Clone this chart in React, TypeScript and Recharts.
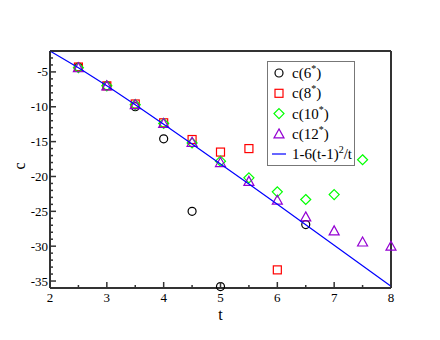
import { ScatterChart, Scatter, XAxis, YAxis } from "recharts";

// valores
const T_6 = [2.5, 3, 3.5, 4, 4.5, 5, 6.5];
const C_6 = [-4.3, -7.0, -10.0, -14.6, -25.0, -35.8, -26.9];

const T_8 = [2.5, 3, 3.5, 4, 4.5, 5, 5.5, 6];
const C_8 = [-4.3, -7.0, -9.6, -12.3, -14.7, -16.5, -16.0, -33.4];

const T_10 = [2.5, 3, 3.5, 4, 4.5, 5, 5.5, 6, 6.5, 7, 7.5];
const C_10 = [-4.4, -7.0, -9.7, -12.4, -15.2, -17.8, -20.2, -22.2, -23.3, -22.6, -17.6];

const T_12 = [2.5, 3, 3.5, 4, 4.5, 5, 5.5, 6, 6.5, 7, 7.5, 8];
const C_12 = [-4.4, -7.0, -9.7, -12.4, -15.1, -18.0, -20.7, -23.4, -25.8, -27.8, -29.4, -30.0];

const T_LINHA = [2, 2.5, 3, 3.5, 4, 4.5, 5, 5.5, 6, 6.5, 7, 7.5, 8];
const C_LINHA = [-2, -4.4, -7, -9.71, -12.5, -15.33, -18.2, -21.09, -24, -26.92, -29.86, -32.8, -35.75];

const X_TICKS = [2, 2.5, 3, 3.5, 4, 4.5, 5, 5.5, 6, 6.5, 7, 7.5, 8];
const Y_TICKS = Array.from({ length: 35 }, (_, i) => -36 + i);

const FONTE = "'Liberation Serif', 'DejaVu Serif', serif";
const COR_EIXO = "#333";

const junta = (t: number[], c: number[]) => t.map((x, i) => ({ t: x, c: c[i] }));

type P = { cx?: number; cy?: number };

const Circulo = ({ cx = 0, cy = 0 }: P) => (
  <circle cx={cx} cy={cy} r={4} fill="none" stroke="#000" strokeWidth={1.2} />
);
const Quadrado = ({ cx = 0, cy = 0 }: P) => (
  <rect x={cx - 4} y={cy - 4} width={8} height={8} fill="none" stroke="#f00" strokeWidth={1.2} />
);
const Losango = ({ cx = 0, cy = 0 }: P) => (
  <polygon
    points={`${cx},${cy - 5} ${cx + 5},${cy} ${cx},${cy + 5} ${cx - 5},${cy}`}
    fill="none"
    stroke="#0f0"
    strokeWidth={1.2}
  />
);
const Triangulo = ({ cx = 0, cy = 0 }: P) => (
  <polygon
    points={`${cx},${cy - 5} ${cx + 5},${cy + 4} ${cx - 5},${cy + 4}`}
    fill="none"
    stroke="#9400d3"
    strokeWidth={1.2}
  />
);

const ehInteiro = (v: number) => Math.abs(v - Math.round(v)) < 1e-6;
const multiplo5 = (v: number) => Math.round(v) % 5 === 0;

// ticks para dentro, estilo xmgrace
function TickBaixo(props: any) {
  const { x, y, payload } = props;
  const maior = ehInteiro(payload.value);
  return (
    <g>
      <line x1={x} y1={y} x2={x} y2={y - (maior ? 6 : 3)} stroke={COR_EIXO} strokeWidth={1.5} />
      {maior && (
        <text x={x} y={y + 14} textAnchor="middle" fontSize={13} fontFamily={FONTE} fill="#000">
          {payload.value}
        </text>
      )}
    </g>
  );
}

function TickTopo(props: any) {
  const { x, y, payload } = props;
  const maior = ehInteiro(payload.value);
  return <line x1={x} y1={y} x2={x} y2={y + (maior ? 6 : 3)} stroke={COR_EIXO} strokeWidth={1.5} />;
}

function TickEsq(props: any) {
  const { x, y, payload } = props;
  const maior = multiplo5(payload.value);
  return (
    <g>
      <line x1={x} y1={y} x2={x + (maior ? 6 : 3)} y2={y} stroke={COR_EIXO} strokeWidth={1.5} />
      {maior && (
        <text x={x - 2} y={y + 4.5} textAnchor="end" fontSize={13} fontFamily={FONTE} fill="#000">
          {payload.value}
        </text>
      )}
    </g>
  );
}

function TickDir(props: any) {
  const { x, y, payload } = props;
  const maior = multiplo5(payload.value);
  return <line x1={x} y1={y} x2={x - (maior ? 6 : 3)} y2={y} stroke={COR_EIXO} strokeWidth={1.5} />;
}

const LEGENDA = [
  { base: "c(6", Simbolo: Circulo },
  { base: "c(8", Simbolo: Quadrado },
  { base: "c(10", Simbolo: Losango },
  { base: "c(12", Simbolo: Triangulo },
];

function Legenda() {
  return (
    <svg
      width={88}
      height={106}
      style={{ position: "absolute", left: 267, top: 61 }}
      fontFamily={FONTE}
    >
      <rect x={0.5} y={0.5} width={87} height={104} fill="#fff" stroke="#777" strokeWidth={1} />
      {LEGENDA.map(({ base, Simbolo }, i) => {
        const y = 12 + i * 20.3;
        return (
          <g key={base}>
            <Simbolo cx={12} cy={y} />
            <text x={25} y={y + 5} fontSize={15} fill="#000">
              {base}
              <tspan fontSize={10} dy={-6}>*</tspan>
              <tspan dy={6}>)</tspan>
            </text>
          </g>
        );
      })}
      <line x1={5} y1={93} x2={19} y2={93} stroke="#00f" strokeWidth={1.2} />
      <text x={25} y={98} fontSize={15} fill="#000">
        1-6(t-1)
        <tspan fontSize={10} dy={-6}>2</tspan>
        <tspan dy={6}>/t</tspan>
      </text>
    </svg>
  );
}

export default function App() {
  return (
    <div style={{ position: "absolute", left: 0, top: 0, width: 440, height: 340, background: "#fff" }}>
      <ScatterChart
        width={440}
        height={340}
        margin={{ top: 46, right: 44, bottom: 22, left: 10 }}
      >
        <XAxis
          xAxisId="b"
          dataKey="t"
          type="number"
          domain={[2, 8]}
          ticks={X_TICKS}
          tick={<TickBaixo />}
          tickSize={0}
          tickMargin={0}
          height={30}
          interval={0}
          axisLine={{ stroke: COR_EIXO, strokeWidth: 2 }}
          tickLine={false}
          allowDecimals
          label={{ value: "t", position: "insideBottom", offset: -2, fontSize: 16, fontFamily: FONTE, fill: "#000" }}
        />
        <XAxis
          xAxisId="top"
          orientation="top"
          dataKey="t"
          type="number"
          domain={[2, 8]}
          ticks={X_TICKS}
          tick={<TickTopo />}
          tickSize={0}
          tickMargin={0}
          height={5}
          interval={0}
          axisLine={{ stroke: COR_EIXO, strokeWidth: 2 }}
          tickLine={false}
        />
        <YAxis
          yAxisId="l"
          dataKey="c"
          type="number"
          domain={[-36, -2]}
          ticks={Y_TICKS}
          tick={<TickEsq />}
          tickSize={0}
          tickMargin={0}
          width={40}
          interval={0}
          axisLine={{ stroke: COR_EIXO, strokeWidth: 2 }}
          tickLine={false}
          label={{ value: "c", angle: -90, position: "insideLeft", offset: 9, fontSize: 16, fontFamily: FONTE, fill: "#000" }}
        />
        <YAxis
          yAxisId="r"
          orientation="right"
          dataKey="c"
          type="number"
          domain={[-36, -2]}
          ticks={Y_TICKS}
          tick={<TickDir />}
          tickSize={0}
          tickMargin={0}
          width={5}
          interval={0}
          axisLine={{ stroke: COR_EIXO, strokeWidth: 2 }}
          tickLine={false}
        />
        <Scatter xAxisId="b" yAxisId="l" data={junta(T_6, C_6)} shape={<Circulo />} isAnimationActive={false} />
        <Scatter xAxisId="b" yAxisId="l" data={junta(T_8, C_8)} shape={<Quadrado />} isAnimationActive={false} />
        <Scatter xAxisId="b" yAxisId="l" data={junta(T_10, C_10)} shape={<Losango />} isAnimationActive={false} />
        <Scatter xAxisId="b" yAxisId="l" data={junta(T_12, C_12)} shape={<Triangulo />} isAnimationActive={false} />
        <Scatter
          xAxisId="b"
          yAxisId="l"
          data={junta(T_LINHA, C_LINHA)}
          line={{ stroke: "#00f", strokeWidth: 1.2 }}
          shape={() => <g />}
          isAnimationActive={false}
        />
      </ScatterChart>
      <Legenda />
    </div>
  );
}
